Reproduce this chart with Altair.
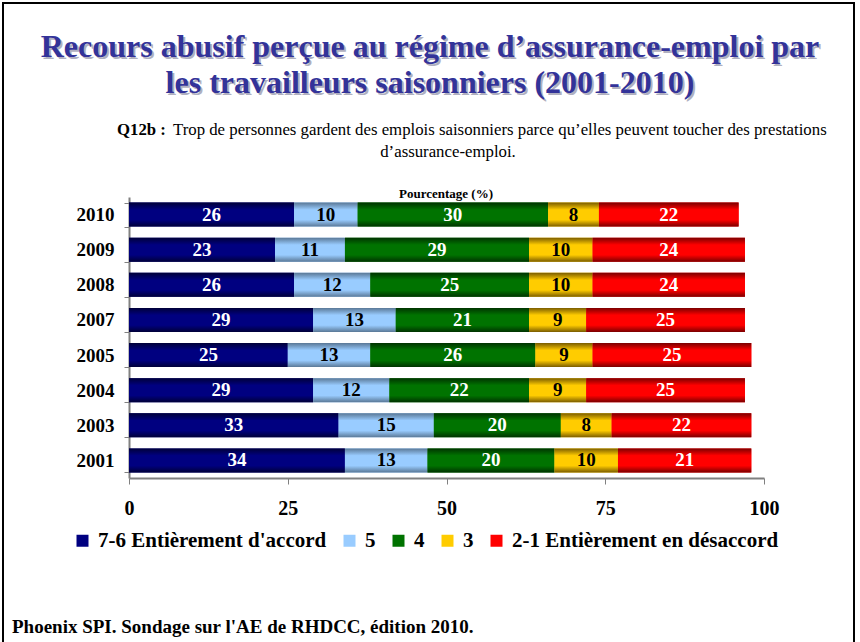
import altair as alt
import pandas as pd

# Survey years (top to bottom) and the five response groups
years = ["2010", "2009", "2008", "2007", "2005", "2004", "2003", "2001"]
groups = ["7-6 Entièrement d'accord", "5", "4", "3", "2-1 Entièrement en désaccord"]

# Percentages per year, one list per response group
v_76 = [26, 23, 26, 29, 25, 29, 33, 34]
v_5 = [10, 11, 12, 13, 13, 12, 15, 13]
v_4 = [30, 29, 25, 21, 26, 22, 20, 20]
v_3 = [8, 10, 10, 9, 9, 9, 8, 10]
v_21 = [22, 24, 24, 25, 25, 25, 22, 21]

x_ticks = [0, 25, 50, 75, 100]

# Flat colours (legend), darker edge shades for the bar shading, label colours
mid_colors = ["#000080", "#99ccff", "#007300", "#ffcc00", "#ff0000"]
edge_colors = ["#000038", "#5a7896", "#003300", "#7a5c00", "#7a0000"]
text_colors = ["white", "black", "white", "black", "white"]

SERIF = "Liberation Serif, Times New Roman, serif"

# Plot area placement inside the 860x642 canvas
PX0, PY0 = 129, 197
PW, PH = 635, 281

series = [v_76, v_5, v_4, v_3, v_21]
rows = []
for gi, (g, vals) in enumerate(zip(groups, series)):
    for y, v in zip(years, vals):
        rows.append({"year": y, "group": g, "order": gi, "value": v,
                     "tcolor": text_colors[gi]})
df = pd.DataFrame(rows)

base = alt.Chart(df).transform_stack(
    stack="value", groupby=["year"], as_=["x0", "x1"],
    sort=[alt.SortField("order", order="ascending")]
).transform_calculate(xm="(datum.x0 + datum.x1) / 2")

y_enc = alt.Y(
    "year:N", sort=years,
    scale=alt.Scale(paddingInner=0.316, paddingOuter=0.158),
    axis=alt.Axis(title=None, labelFont=SERIF, labelFontSize=19,
                  labelFontWeight="bold", labelColor="black",
                  tickBand="extent", tickSize=5, tickColor="#808080",
                  domainColor="#808080", domainWidth=2, labelPadding=10),
)
x_enc = alt.X(
    "x0:Q", scale=alt.Scale(domain=[0, 100], nice=False),
    axis=alt.Axis(title=None, values=x_ticks, grid=False, labelFont=SERIF,
                  labelFontSize=20, labelFontWeight="bold", labelColor="black",
                  tickSize=6, tickColor="#808080", domainColor="#808080",
                  domainWidth=2, labelPadding=14, labelFlush=False),
)

# Flat bars carry the colour legend
flat = base.mark_bar().encode(
    y=y_enc, x=x_enc, x2="x1:Q",
    color=alt.Color("group:N", scale=alt.Scale(domain=groups, range=mid_colors),
                    legend=alt.Legend(title=None, orient="none", direction="horizontal",
                                      legendX=72 - PX0, legendY=530 - PY0)),
)

# Shaded bars drawn on top, one layer per response group
shaded = []
for g, mid, edge in zip(groups, mid_colors, edge_colors):
    grad = alt.Gradient(
        gradient="linear", x1=0, x2=0, y1=0, y2=1,
        stops=[alt.GradientStop(offset=0, color=edge),
               alt.GradientStop(offset=0.3, color=mid),
               alt.GradientStop(offset=0.72, color=mid),
               alt.GradientStop(offset=1, color=edge)],
    )
    shaded.append(
        base.transform_filter(alt.datum.group == g)
        .mark_bar(color=grad)
        .encode(y=alt.Y("year:N", sort=years), x="x0:Q", x2="x1:Q")
    )

values = base.mark_text(font=SERIF, fontSize=19, fontWeight="bold", baseline="middle").encode(
    y=alt.Y("year:N", sort=years), x="xm:Q", text="value:Q",
    color=alt.Color("tcolor:N", scale=None),
)


def txt(text, x, y, size, weight="normal", color="black", align="center"):
    return alt.Chart(pd.DataFrame({"t": [text]})).mark_text(
        align=align, baseline="middle", font=SERIF, fontSize=size,
        fontWeight=weight, color=color,
    ).encode(text="t:N", x=alt.value(x - PX0), y=alt.value(y - PY0))


title1 = "Recours abusif perçue au régime d’assurance-emploi par"
title2 = "les travailleurs saisonniers (2001-2010)"
decor = [
    # slide frame
    alt.Chart(pd.DataFrame({"a": [0]})).mark_rect(filled=False, stroke="black", strokeWidth=2).encode(
        x=alt.value(3 - PX0), x2=alt.value(854 - PX0),
        y=alt.value(3 - PY0), y2=alt.value(700 - PY0)),
    # title with a soft drop shadow
    txt(title1, 432, 49, 32, "bold", "#b0b0c0"),
    txt(title2, 432, 85, 32, "bold", "#b0b0c0"),
    txt(title1, 430, 47, 32, "bold", "#333399"),
    txt(title2, 430, 83, 32, "bold", "#333399"),
    txt("Q12b :", 117, 130, 16.8, "bold", align="left"),
    txt("Trop de personnes gardent des emplois saisonniers parce qu’elles peuvent toucher des prestations",
        173, 130, 16.8, align="left"),
    txt("d’assurance-emploi.", 448, 152, 16.8),
    txt("Pourcentage (%)", 446, 194, 13, "bold"),
    txt("Phoenix SPI. Sondage sur l'AE de RHDCC, édition 2010.", 12, 627, 19, "bold", align="left"),
]

chart = alt.layer(flat, *shaded, values, *decor).properties(
    width=PW, height=PH,
    autosize=alt.AutoSizeParams(type="none"),
    padding={"left": PX0, "top": PY0, "right": 860 - PX0 - PW, "bottom": 642 - PY0 - PH},
    background="white",
).configure_view(stroke=None).configure_legend(
    labelFont=SERIF, labelFontSize=21, labelFontWeight="bold", labelColor="black",
    symbolType="square", symbolSize=144, symbolStrokeWidth=0, symbolOpacity=1,
    columnPadding=12, labelOffset=5, padding=0, labelLimit=400,
)

chart.save("out.html", embed_options={"renderer": "svg", "actions": False})
